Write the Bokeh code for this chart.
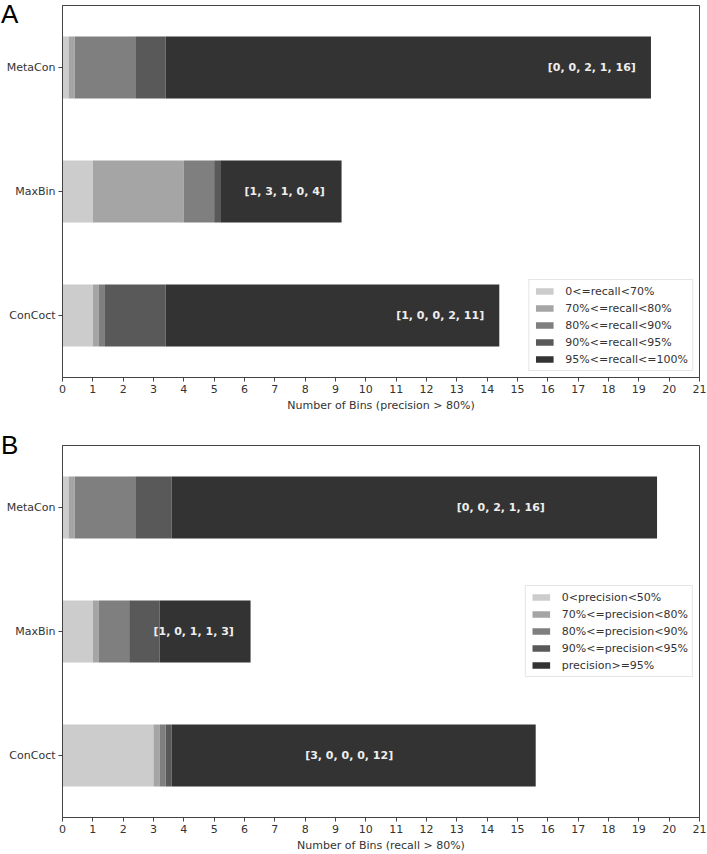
from bokeh.plotting import figure
from bokeh.models import (FactorRange, Range1d, Legend, LegendItem, Div,
                          FixedTicker, ColumnDataSource)
from bokeh.layouts import column
from bokeh.core.properties import value
from bokeh.embed import file_html
from bokeh.resources import INLINE

# ---------------- data ----------------
categories = ["ConCoct", "MaxBin", "MetaCon"]          # bottom -> top
x_ticks = list(range(0, 22))

# Panel A: counts shown in labels, and drawn segment widths (zeros drawn as thin slivers)
a_counts = [[1, 0, 0, 2, 11], [1, 3, 1, 0, 4], [0, 0, 2, 1, 16]]
a_seg1 = [1, 1, 0.2]
a_seg2 = [0.2, 3, 0.2]
a_seg3 = [0.2, 1, 2]
a_seg4 = [2, 0.2, 1]
a_seg5 = [11, 4, 16]
a_legend = ["0<=recall<70%", "70%<=recall<80%", "80%<=recall<90%",
            "90%<=recall<95%", "95%<=recall<=100%"]
a_xlabel = "Number of Bins (precision > 80%)"
a_label_left = [11, 6, 16]

# Panel B
b_counts = [[3, 0, 0, 0, 12], [1, 0, 1, 1, 3], [0, 0, 2, 1, 16]]
b_seg1 = [3, 1, 0.2]
b_seg2 = [0.2, 0.2, 0.2]
b_seg3 = [0.2, 1, 2]
b_seg4 = [0.2, 1, 1.2]
b_seg5 = [12, 3, 16]
b_legend = ["0<precision<50%", "70%<=precision<80%", "80%<=precision<90%",
            "90%<=precision<95%", "precision>=95%"]
b_xlabel = "Number of Bins (recall > 80%)"
b_label_left = [8, 3, 13]

colors = ["#cccccc", "#a5a5a5", "#7f7f7f", "#595959", "#333333"]

FONT = "DejaVu Sans"
AXIS_COLOR = "#444444"
BORDER_LEFT = 62
HEIGHT_A = 430
HEIGHT_B = 424


def make_panel(segs, counts, label_left, legend_labels, xlabel,
               height, border_top, border_bottom, legend_loc):
    p = figure(width=707, height=height,
               y_range=FactorRange(factors=categories),
               x_range=Range1d(0, 21),
               output_backend="svg", toolbar_location=None,
               min_border_left=BORDER_LEFT, min_border_right=8,
               min_border_top=border_top, min_border_bottom=border_bottom)
    p.xgrid.visible = False
    p.ygrid.visible = False
    p.outline_line_color = AXIS_COLOR
    p.outline_line_width = 1
    p.outline_line_alpha = 1

    lefts = [0.0] * len(categories)
    items = []
    for i, widths in enumerate(segs):
        rights = [l + w for l, w in zip(lefts, widths)]
        src = ColumnDataSource(dict(y=categories, left=lefts, right=rights))
        r = p.hbar(y="y", left="left", right="right", height=0.5, source=src,
                   fill_color=colors[i], line_color=None)
        items.append(LegendItem(label=legend_labels[i], renderers=[r]))
        lefts = rights

    texts = ["[" + ", ".join(str(c) for c in cnt) + "]" for cnt in counts]
    tsrc = ColumnDataSource(dict(x=label_left, y=categories, t=texts))
    p.text(x="x", y="y", text="t", source=tsrc,
           text_font=value(FONT), text_font_style="bold",
           text_font_size="11px", text_color="#eeeeee",
           text_baseline="alphabetic", text_align="left")

    legend = Legend(items=items, location=legend_loc)
    legend.label_text_font = FONT
    legend.label_text_font_size = "11px"
    legend.label_text_color = "#333333"
    legend.glyph_width = 22
    legend.glyph_height = 8
    legend.label_height = 14
    legend.label_standoff = 10
    legend.spacing = 3
    legend.padding = 4
    legend.margin = 6
    legend.border_line_color = "#cccccc"
    legend.border_line_width = 1
    legend.background_fill_alpha = 0.8
    p.add_layout(legend)

    p.xaxis.ticker = FixedTicker(ticks=x_ticks)
    p.xaxis.axis_label = xlabel
    for ax in (p.xaxis, p.yaxis):
        ax.axis_line_color = AXIS_COLOR
        ax.major_tick_line_color = AXIS_COLOR
        ax.major_tick_out = 4
        ax.major_tick_in = 0
        ax.minor_tick_line_color = None
        ax.major_label_text_font = FONT
        ax.major_label_text_font_size = "11px"
        ax.major_label_text_color = "#333333"
        ax.major_label_standoff = 3
    p.xaxis.axis_label_text_font = FONT
    p.xaxis.axis_label_text_font_size = "11px"
    p.xaxis.axis_label_text_font_style = "normal"
    p.xaxis.axis_label_text_color = "#333333"
    p.xaxis.axis_label_standoff = 3
    return p


def panel_letter(letter, top):
    return Div(text=letter, width=30, height=30,
               styles={"position": "absolute", "left": "1px", "top": f"{top}px",
                       "z-index": "10", "font-family": "Liberation Sans",
                       "font-size": "26px", "line-height": "29px",
                       "color": "#000000", "margin": "0px", "padding": "0px"})


pA = make_panel([a_seg1, a_seg2, a_seg3, a_seg4, a_seg5], a_counts, a_label_left,
                a_legend, a_xlabel, HEIGHT_A, 5, 53, "bottom_right")
pB = make_panel([b_seg1, b_seg2, b_seg3, b_seg4, b_seg5], b_counts, b_label_left,
                b_legend, b_xlabel, HEIGHT_B, 15, 36, "center_right")

layout = column(pA, pB, panel_letter("A", 0), panel_letter("B", HEIGHT_A + 1))
open("out.html", "w").write(file_html(layout, INLINE))
